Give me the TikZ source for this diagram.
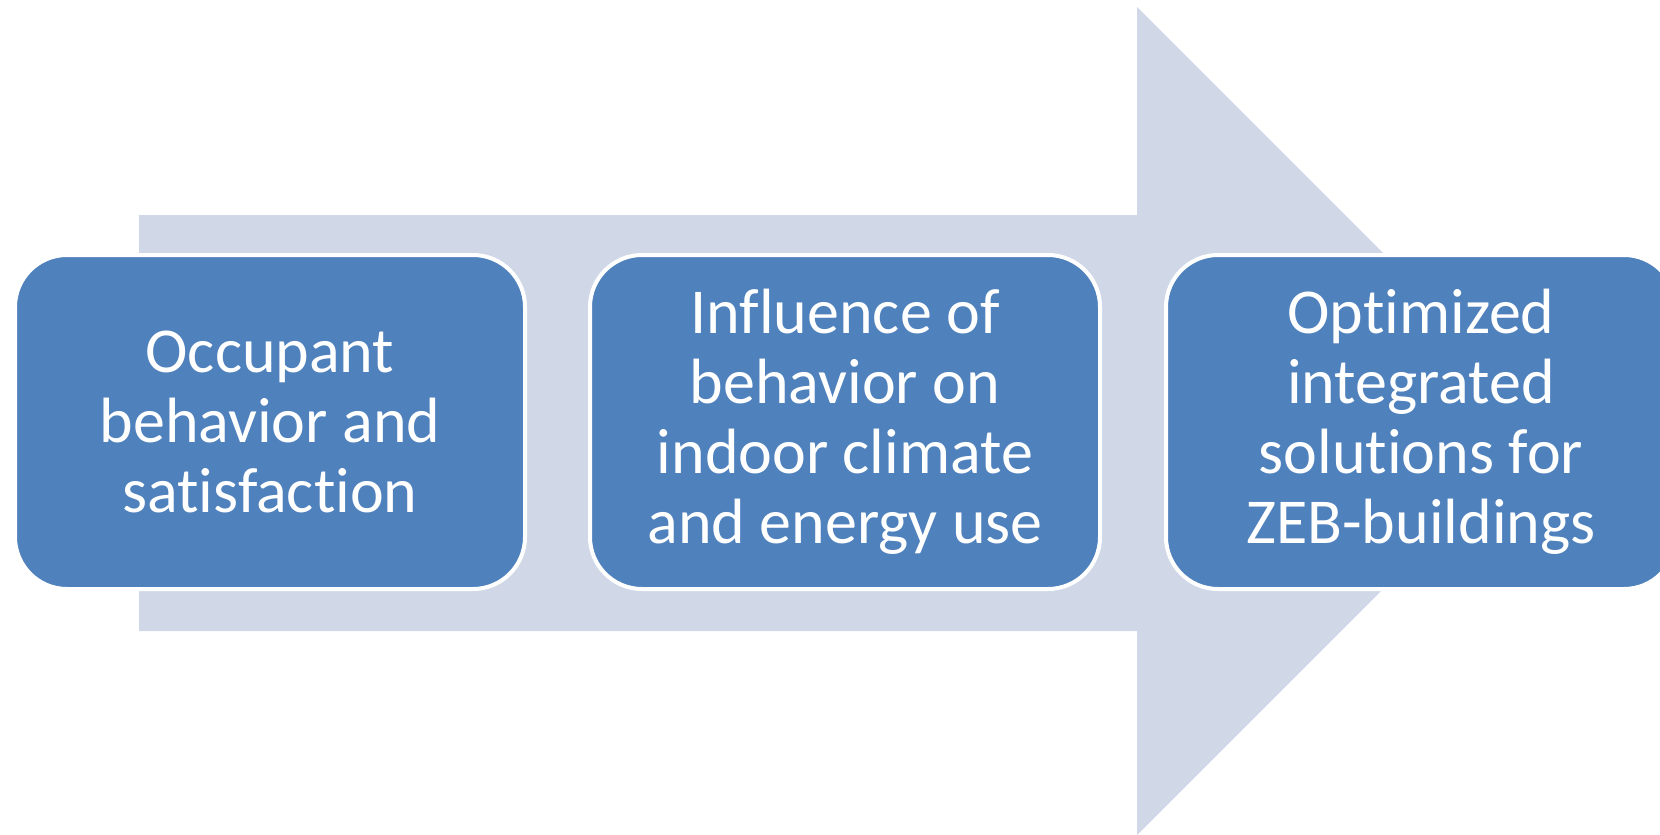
\documentclass[tikz,border=0pt]{standalone}
\usepackage{fontspec}
\setmainfont{Carlito}[Ligatures={NoCommon}]
\definecolor{arrowfill}{HTML}{D0D8E8}
\definecolor{boxfill}{HTML}{4F81BD}
\tikzset{
  stage/.style={draw=white, line width=4pt, fill=boxfill, rounded corners=52pt,
    minimum width=510pt, minimum height=334pt, align=center, text=white,
    font=\fontsize{64pt}{70pt}\selectfont, inner sep=0pt}
}
\begin{document}
\begin{tikzpicture}[x=1pt,y=-1pt]
\useasboundingbox (0,0) rectangle (1660,835);
\clip (0,0) rectangle (1660,835);
\fill[arrowfill] (139,215) -- (1137,215) -- (1137,7) -- (1551,421) -- (1137,835) -- (1137,631) -- (139,631) -- cycle;
\node[stage] (b1) at (270,422) {Occupant\\behavior and\\satisfaction};
\node[stage] (b2) at (845,422) {Influence of\\behavior on\\indoor climate\\and energy use};
\node[stage] (b3) at (1421,422) {Optimized\\integrated\\solutions for\\ZEB-buildings};
\end{tikzpicture}
\end{document}
